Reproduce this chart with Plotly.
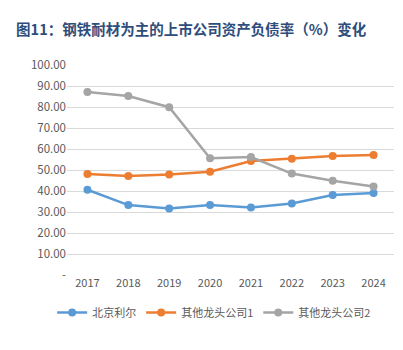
import plotly.graph_objects as go

years = ["2017", "2018", "2019", "2020", "2021", "2022", "2023", "2024"]
beijing_lier = [40.6, 33.3, 31.7, 33.3, 32.1, 34.1, 38.1, 39.0]
other1 = [48.1, 47.1, 47.8, 49.2, 54.3, 55.4, 56.7, 57.1]
other2 = [87.1, 85.2, 79.9, 55.6, 56.2, 48.3, 44.9, 42.1]
names = ["北京利尔", "其他龙头公司1", "其他龙头公司2"]
colors = ["#5B9BD5", "#ED7D31", "#A5A5A5"]
tick_vals = [0, 10, 20, 30, 40, 50, 60, 70, 80, 90, 100]
tick_text = ["-", "10.00", "20.00", "30.00", "40.00", "50.00", "60.00", "70.00", "80.00", "90.00", "100.00"]

font_family = "Noto Sans CJK SC, Noto Sans, sans-serif"

fig = go.Figure()
for name, vals, c in zip(names, [beijing_lier, other1, other2], colors):
    fig.add_trace(go.Scatter(
        x=years, y=vals, name=name, mode="lines+markers",
        line=dict(color=c, width=2.5),
        marker=dict(color=c, size=8),
    ))

fig.update_layout(
    width=403, height=350,
    margin=dict(l=67, r=9, t=65, b=75),
    paper_bgcolor="white", plot_bgcolor="white",
    font=dict(family=font_family, color="#595959", size=11),
    title=dict(
        text="<b>图11：钢铁耐材为主的上市公司资产负债率（%）变化</b>",
        x=0.04, xanchor="left", y=0.915, yanchor="middle",
        font=dict(size=14.5, color="#2E4D7B", family=font_family),
    ),
    xaxis=dict(
        type="category", range=[-0.5, 7.5], showgrid=False,
        showline=False, ticks="", tickfont=dict(size=11, color="#595959"),
        zeroline=False,
    ),
    yaxis=dict(
        range=[0, 100], tickvals=tick_vals, ticktext=tick_text,
        showgrid=True, gridcolor="#D9D9D9", gridwidth=1,
        zeroline=False, showline=False, ticks="",
        tickfont=dict(size=11.5, color="#595959"),
    ),
    legend=dict(
        orientation="h", x=0.45, xanchor="center", y=-0.11, yanchor="top",
        font=dict(size=11, color="#595959"), itemwidth=30,
        tracegroupgap=0,
    ),
    showlegend=True,
)

fig.write_html("out.html")
